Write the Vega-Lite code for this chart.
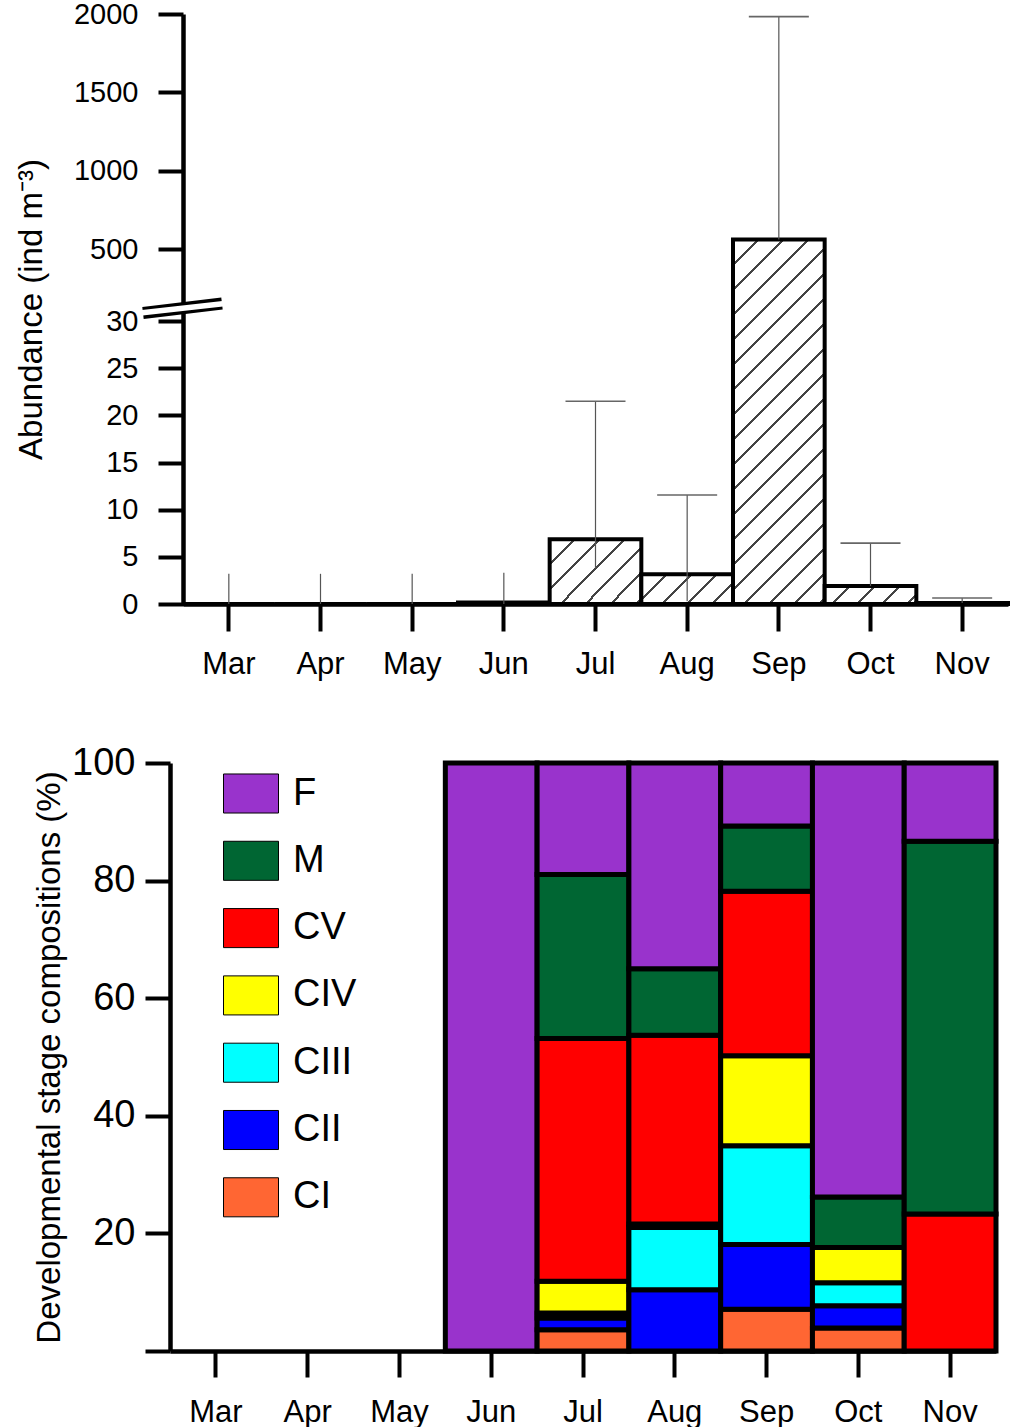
{
  "$schema": "https://vega.github.io/schema/vega-lite/v6.json",
  "background": "white",
  "padding": {"left": 15, "top": 0, "right": 0, "bottom": 0},
  "bounds": "flush",
  "spacing": 159,
  "config": {
    "font": "Liberation Sans",
    "view": {"stroke": null},
    "axis": {
      "domainColor": "black",
      "domainWidth": 4.5,
      "tickColor": "black",
      "tickWidth": 4,
      "labelColor": "black",
      "titleColor": "black",
      "labelFont": "Liberation Sans",
      "titleFont": "Liberation Sans",
      "titleFontWeight": "normal",
      "grid": false
    }
  },
  "vconcat": [
    {
      "width": 838,
      "height": 590,
      "data": {
        "values": [
          {"month": "Mar", "abundance": 0, "err_lo": 0, "err_hi": 3.2},
          {"month": "Apr", "abundance": 0, "err_lo": 0, "err_hi": 3.2},
          {"month": "May", "abundance": 0, "err_lo": 0, "err_hi": 3.2},
          {"month": "Jun", "abundance": 0.15, "err_lo": 0, "err_hi": 3.3},
          {"month": "Jul", "abundance": 6.86, "err_lo": 3.8, "err_hi": 21.5},
          {"month": "Aug", "abundance": 3.15, "err_lo": 0.3, "err_hi": 11.55},
          {"month": "Sep", "abundance": 560, "err_lo": 560, "err_hi": 1983},
          {"month": "Oct", "abundance": 1.9, "err_lo": 1.9, "err_hi": 6.45},
          {"month": "Nov", "abundance": 0.1, "err_lo": 0.1, "err_hi": 0.64}
        ]
      },
      "encoding": {
        "x": {
          "field": "month",
          "type": "nominal",
          "scale": {
            "domain": ["Mar", "Apr", "May", "Jun", "Jul", "Aug", "Sep", "Oct", "Nov"],
            "range": [13, 838],
            "paddingInner": 0,
            "paddingOuter": 0
          },
          "axis": {"title": null, "labelAngle": 0, "labelFontSize": 31, "tickSize": 27, "labelPadding": 18}
        }
      },
      "layer": [
        {
          "mark": {"type": "bar", "stroke": "black", "strokeWidth": 4},
          "encoding": {
            "y": {
              "field": "abundance",
              "type": "quantitative",
              "title": "Abundance (ind m⁻³)",
              "scale": {"domain": [0, 30, 500, 2000], "range": [590, 307, 235, 0], "zero": false, "nice": false},
              "axis": {
                "values": [0, 5, 10, 15, 20, 25, 30, 500, 1000, 1500, 2000],
                "format": "d",
                "tickSize": 25,
                "labelPadding": 20,
                "labelFontSize": 29,
                "titleFontSize": 33,
                "titlePadding": 25,
                "labelOverlap": false,
                "offset": -13
              }
            },
            "fill": {
              "condition": [
                {
                  "test": "datum.month === 'Sep'",
                  "value": {
                    "gradient": "linear", "x1": 0, "y1": 0, "x2": 0.2966, "y2": 1.1773,
                    "stops": [
                      {"offset": 0, "color": "white"},
                      {"offset": 0.0516, "color": "white"}, {"offset": 0.0516, "color": "#444"}, {"offset": 0.0582, "color": "#444"}, {"offset": 0.0582, "color": "white"},
                      {"offset": 0.1064, "color": "white"}, {"offset": 0.1064, "color": "#444"}, {"offset": 0.1130, "color": "#444"}, {"offset": 0.1130, "color": "white"},
                      {"offset": 0.1613, "color": "white"}, {"offset": 0.1613, "color": "#444"}, {"offset": 0.1679, "color": "#444"}, {"offset": 0.1679, "color": "white"},
                      {"offset": 0.2162, "color": "white"}, {"offset": 0.2162, "color": "#444"}, {"offset": 0.2228, "color": "#444"}, {"offset": 0.2228, "color": "white"},
                      {"offset": 0.2711, "color": "white"}, {"offset": 0.2711, "color": "#444"}, {"offset": 0.2777, "color": "#444"}, {"offset": 0.2777, "color": "white"},
                      {"offset": 0.3259, "color": "white"}, {"offset": 0.3259, "color": "#444"}, {"offset": 0.3325, "color": "#444"}, {"offset": 0.3325, "color": "white"},
                      {"offset": 0.3808, "color": "white"}, {"offset": 0.3808, "color": "#444"}, {"offset": 0.3874, "color": "#444"}, {"offset": 0.3874, "color": "white"},
                      {"offset": 0.4357, "color": "white"}, {"offset": 0.4357, "color": "#444"}, {"offset": 0.4423, "color": "#444"}, {"offset": 0.4423, "color": "white"},
                      {"offset": 0.4905, "color": "white"}, {"offset": 0.4905, "color": "#444"}, {"offset": 0.4971, "color": "#444"}, {"offset": 0.4971, "color": "white"},
                      {"offset": 0.5454, "color": "white"}, {"offset": 0.5454, "color": "#444"}, {"offset": 0.5520, "color": "#444"}, {"offset": 0.5520, "color": "white"},
                      {"offset": 0.6003, "color": "white"}, {"offset": 0.6003, "color": "#444"}, {"offset": 0.6069, "color": "#444"}, {"offset": 0.6069, "color": "white"},
                      {"offset": 0.6551, "color": "white"}, {"offset": 0.6551, "color": "#444"}, {"offset": 0.6617, "color": "#444"}, {"offset": 0.6617, "color": "white"},
                      {"offset": 0.7100, "color": "white"}, {"offset": 0.7100, "color": "#444"}, {"offset": 0.7166, "color": "#444"}, {"offset": 0.7166, "color": "white"},
                      {"offset": 0.7649, "color": "white"}, {"offset": 0.7649, "color": "#444"}, {"offset": 0.7715, "color": "#444"}, {"offset": 0.7715, "color": "white"},
                      {"offset": 0.8198, "color": "white"}, {"offset": 0.8198, "color": "#444"}, {"offset": 0.8264, "color": "#444"}, {"offset": 0.8264, "color": "white"},
                      {"offset": 0.8746, "color": "white"}, {"offset": 0.8746, "color": "#444"}, {"offset": 0.8812, "color": "#444"}, {"offset": 0.8812, "color": "white"},
                      {"offset": 0.9295, "color": "white"}, {"offset": 0.9295, "color": "#444"}, {"offset": 0.9361, "color": "#444"}, {"offset": 0.9361, "color": "white"},
                      {"offset": 0.9844, "color": "white"}, {"offset": 0.9844, "color": "#444"}, {"offset": 0.9910, "color": "#444"}, {"offset": 0.9910, "color": "white"},
                      {"offset": 1, "color": "white"}
                    ]
                  }
                },
                {
                  "test": "datum.month === 'Jul'",
                  "value": {
                    "gradient": "linear", "x1": 0, "y1": 0, "x2": 1.1415, "y2": 0.7982,
                    "stops": [
                      {"offset": 0, "color": "white"},
                      {"offset": 0.1509, "color": "white"}, {"offset": 0.1509, "color": "#444"}, {"offset": 0.1701, "color": "#444"}, {"offset": 0.1701, "color": "white"},
                      {"offset": 0.3113, "color": "white"}, {"offset": 0.3113, "color": "#444"}, {"offset": 0.3305, "color": "#444"}, {"offset": 0.3305, "color": "white"},
                      {"offset": 0.4718, "color": "white"}, {"offset": 0.4718, "color": "#444"}, {"offset": 0.4910, "color": "#444"}, {"offset": 0.4910, "color": "white"},
                      {"offset": 0.6322, "color": "white"}, {"offset": 0.6322, "color": "#444"}, {"offset": 0.6514, "color": "#444"}, {"offset": 0.6514, "color": "white"},
                      {"offset": 0.7927, "color": "white"}, {"offset": 0.7927, "color": "#444"}, {"offset": 0.8119, "color": "#444"}, {"offset": 0.8119, "color": "white"},
                      {"offset": 0.9532, "color": "white"}, {"offset": 0.9532, "color": "#444"}, {"offset": 0.9724, "color": "#444"}, {"offset": 0.9724, "color": "white"},
                      {"offset": 1, "color": "white"}
                    ]
                  }
                },
                {
                  "test": "datum.month === 'Aug'",
                  "value": {
                    "gradient": "linear", "x1": 0, "y1": 0, "x2": 1.1986, "y2": 0.3883,
                    "stops": [
                      {"offset": 0, "color": "white"},
                      {"offset": 0.1935, "color": "white"}, {"offset": 0.1935, "color": "#444"}, {"offset": 0.2183, "color": "#444"}, {"offset": 0.2183, "color": "white"},
                      {"offset": 0.3994, "color": "white"}, {"offset": 0.3994, "color": "#444"}, {"offset": 0.4242, "color": "#444"}, {"offset": 0.4242, "color": "white"},
                      {"offset": 0.6054, "color": "white"}, {"offset": 0.6054, "color": "#444"}, {"offset": 0.6302, "color": "#444"}, {"offset": 0.6302, "color": "white"},
                      {"offset": 0.8113, "color": "white"}, {"offset": 0.8113, "color": "#444"}, {"offset": 0.8361, "color": "#444"}, {"offset": 0.8361, "color": "white"},
                      {"offset": 1, "color": "white"}
                    ]
                  }
                },
                {
                  "test": "datum.month === 'Oct'",
                  "value": {
                    "gradient": "linear", "x1": 0, "y1": 0, "x2": 1.1518, "y2": 0.2249,
                    "stops": [
                      {"offset": 0, "color": "white"},
                      {"offset": 0.2144, "color": "white"}, {"offset": 0.2144, "color": "#444"}, {"offset": 0.2418, "color": "#444"}, {"offset": 0.2418, "color": "white"},
                      {"offset": 0.4425, "color": "white"}, {"offset": 0.4425, "color": "#444"}, {"offset": 0.4699, "color": "#444"}, {"offset": 0.4699, "color": "white"},
                      {"offset": 0.6706, "color": "white"}, {"offset": 0.6706, "color": "#444"}, {"offset": 0.6980, "color": "#444"}, {"offset": 0.6980, "color": "white"},
                      {"offset": 0.8987, "color": "white"}, {"offset": 0.8987, "color": "#444"}, {"offset": 0.9261, "color": "#444"}, {"offset": 0.9261, "color": "white"},
                      {"offset": 1, "color": "white"}
                    ]
                  }
                }
              ],
              "value": "white"
            }
          }
        },
        {
          "mark": {"type": "rule", "color": "#555", "strokeWidth": 1.2},
          "encoding": {
            "y": {"field": "err_lo", "type": "quantitative", "title": "Abundance (ind m⁻³)"},
            "y2": {"field": "err_hi"}
          }
        },
        {
          "transform": [{"filter": {"field": "month", "oneOf": ["Jul", "Aug", "Sep", "Oct", "Nov"]}}],
          "mark": {"type": "tick", "color": "#666", "size": 60, "thickness": 1.6, "opacity": 1},
          "encoding": {
            "y": {"field": "err_hi", "type": "quantitative", "title": "Abundance (ind m⁻³)"}
          }
        },
        {
          "data": {"values": [{"mark": "break"}]},
          "mark": {"type": "rule", "color": "black", "strokeWidth": 12, "xOffset": -40, "x2Offset": 39},
          "encoding": {
            "x": {"datum": "Mar", "bandPosition": 0},
            "x2": {"datum": "Mar", "bandPosition": 0},
            "y": {"datum": 82, "type": "quantitative", "title": "Abundance (ind m⁻³)"},
            "y2": {"datum": 144}
          }
        },
        {
          "data": {"values": [{"mark": "break"}]},
          "mark": {"type": "rule", "color": "white", "strokeWidth": 5.5, "xOffset": -43, "x2Offset": 42},
          "encoding": {
            "x": {"datum": "Mar", "bandPosition": 0},
            "x2": {"datum": "Mar", "bandPosition": 0},
            "y": {"datum": 82, "type": "quantitative", "title": "Abundance (ind m⁻³)"},
            "y2": {"datum": 144}
          }
        }
      ]
    },
    {
      "width": 826,
      "height": 588,
      "data": {
        "values": [
          {"month": "Jun", "stage": "F", "pct": 100},
          {"month": "Jul", "stage": "CI", "pct": 3.6},
          {"month": "Jul", "stage": "CII", "pct": 2.0},
          {"month": "Jul", "stage": "CIII", "pct": 0.85},
          {"month": "Jul", "stage": "CIV", "pct": 5.4},
          {"month": "Jul", "stage": "CV", "pct": 41.3},
          {"month": "Jul", "stage": "M", "pct": 27.9},
          {"month": "Jul", "stage": "F", "pct": 18.95},
          {"month": "Aug", "stage": "CII", "pct": 10.4},
          {"month": "Aug", "stage": "CIII", "pct": 10.6},
          {"month": "Aug", "stage": "CIV", "pct": 0.6},
          {"month": "Aug", "stage": "CV", "pct": 32.1},
          {"month": "Aug", "stage": "M", "pct": 11.3},
          {"month": "Aug", "stage": "F", "pct": 35.0},
          {"month": "Sep", "stage": "CI", "pct": 7.1},
          {"month": "Sep", "stage": "CII", "pct": 11.0},
          {"month": "Sep", "stage": "CIII", "pct": 16.8},
          {"month": "Sep", "stage": "CIV", "pct": 15.3},
          {"month": "Sep", "stage": "CV", "pct": 28.0},
          {"month": "Sep", "stage": "M", "pct": 11.1},
          {"month": "Sep", "stage": "F", "pct": 10.7},
          {"month": "Oct", "stage": "CI", "pct": 3.9},
          {"month": "Oct", "stage": "CII", "pct": 3.8},
          {"month": "Oct", "stage": "CIII", "pct": 3.9},
          {"month": "Oct", "stage": "CIV", "pct": 6.0},
          {"month": "Oct", "stage": "M", "pct": 8.6},
          {"month": "Oct", "stage": "F", "pct": 73.8},
          {"month": "Nov", "stage": "CV", "pct": 23.3},
          {"month": "Nov", "stage": "M", "pct": 63.4},
          {"month": "Nov", "stage": "F", "pct": 13.3}
        ]
      },
      "transform": [
        {"calculate": "indexof(['CI', 'CII', 'CIII', 'CIV', 'CV', 'M', 'F'], datum.stage)", "as": "stage_rank"}
      ],
      "mark": {"type": "bar", "stroke": "black", "strokeWidth": 5},
      "encoding": {
        "x": {
          "field": "month",
          "type": "nominal",
          "scale": {
            "domain": ["Mar", "Apr", "May", "Jun", "Jul", "Aug", "Sep", "Oct", "Nov"],
            "paddingInner": 0,
            "paddingOuter": 0
          },
          "axis": {"title": null, "labelAngle": 0, "labelFontSize": 31, "tickSize": 26, "labelPadding": 20}
        },
        "y": {
          "field": "pct",
          "type": "quantitative",
          "stack": "zero",
          "scale": {"domain": [0, 100], "nice": false},
          "axis": {
            "title": "Developmental stage compositions (%)",
            "values": [0, 20, 40, 60, 80, 100],
            "labelExpr": "datum.value === 0 ? '' : datum.label",
            "tickSize": 25,
            "labelPadding": 10,
            "labelFontSize": 38,
            "titleFontSize": 33,
            "titlePadding": 5
          }
        },
        "order": {"field": "stage_rank", "type": "quantitative", "sort": "ascending"},
        "color": {
          "field": "stage",
          "type": "nominal",
          "scale": {
            "domain": ["F", "M", "CV", "CIV", "CIII", "CII", "CI"],
            "range": ["#9933CC", "#006633", "#FF0000", "#FFFF00", "#00FFFF", "#0000FF", "#FF6633"]
          },
          "legend": {
            "title": null,
            "orient": "none",
            "legendX": 53,
            "legendY": 751.5,
            "padding": 0,
            "symbolType": "M-1,-0.71H1V0.71H-1Z",
            "symbolSize": 3025,
            "symbolStrokeColor": "black",
            "symbolStrokeWidth": 1,
            "symbolOpacity": 1,
            "labelFontSize": 38,
            "labelColor": "black",
            "labelOffset": 14,
            "rowPadding": 17.3
          }
        }
      }
    }
  ]
}
